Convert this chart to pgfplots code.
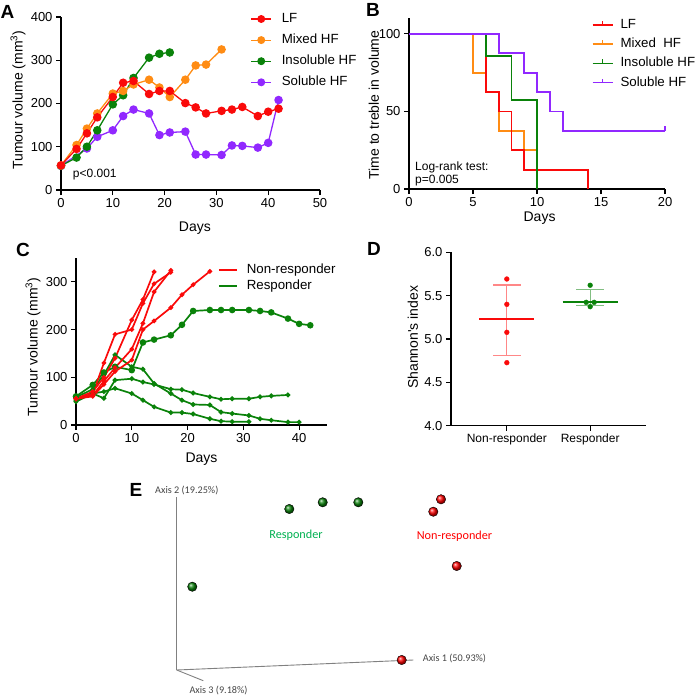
\documentclass[border=0pt]{standalone}
\usepackage{fontspec}
\setmainfont{Liberation Sans}
\newfontfamily\calibri{Carlito}
\usepackage{pgfplots}
\pgfplotsset{compat=1.18}
\definecolor{cRed}{RGB}{250,10,10}
\definecolor{cOrange}{RGB}{255,140,20}
\definecolor{cGreen}{RGB}{10,130,10}
\definecolor{cPurple}{RGB}{145,40,255}
\definecolor{eGreen}{RGB}{0,176,80}
\definecolor{eGray}{RGB}{70,70,70}
\definecolor{lRed}{RGB}{255,135,135}
\definecolor{lGreen}{RGB}{130,190,130}

\pgfplotsset{
  gp/.style={
    scale only axis, anchor=south west,
    axis lines=left,
    axis line style={-, line width=1.2pt, black},
    tick align=outside,
    major tick length=5pt,
    tick style={line width=1.2pt, black},
    tick label style={font=\fontsize{13}{15}\selectfont},
    /pgf/number format/assume math mode=true,
    label style={font=\fontsize{14}{16}\selectfont},
    clip=false,
    legend cell align=left,
  },
  lg/.style={legend style={draw=none, fill=none, inner sep=0pt, outer sep=0pt, anchor=north west,
    font=\fontsize{13.3}{16}\selectfont,
    nodes={inner sep=1pt, text height=10pt, text depth=3pt}}},
}

\begin{document}
\begin{tikzpicture}
\useasboundingbox (0pt,0pt) rectangle (698pt,-695pt);

% ---------------- Panel A ----------------
\begin{axis}[gp, lg, at={(61pt,-190pt)}, width=259pt, height=173pt,
  xmin=0, xmax=50, ymin=0, ymax=400,
  xtick={0,10,...,50}, ytick={0,100,...,400},
  xlabel={Days}, ylabel={Tumour volume (mm\textsuperscript{3})},
  xlabel style={at={(axis description cs:0.517,-0.22)}, anchor=center},
  ylabel style={at={(axis description cs:-0.166,0.52)}, anchor=center},
  legend style={at={(axis description cs:0.7324,1.0318)}, row sep=6.1pt,
    /tikz/every odd column/.append style={column sep=9pt}},
  legend image code/.code={\draw[mark repeat=2,mark phase=2,#1] plot coordinates {(0pt,0pt) (10pt,0pt) (20pt,0pt)};},
]
\addlegendimage{cRed, line width=1.1pt, mark=*, mark size=3.4pt}
\addlegendimage{cOrange, line width=1.1pt, mark=*, mark size=3.4pt}
\addlegendimage{cGreen, line width=1.1pt, mark=*, mark size=3.4pt}
\addlegendimage{cPurple, line width=1.1pt, mark=*, mark size=3.4pt}
\legend{LF, Mixed HF, Insoluble HF, Soluble HF}
\addplot[forget plot, cPurple, line width=1.3pt, mark=*, mark size=3.6pt] coordinates {
(0,56)(5,96)(7,123)(10,138)(12,171)(14,186)(17,177)(19,127)(21,133)(24,135)(26,82)(28,82)(31,81)(33,103)(35,102)(38,98)(40,109)(42,208)};
\addplot[forget plot, cGreen, line width=1.3pt, mark=*, mark size=3.6pt] coordinates {
(0,56)(3,75)(5,100)(7,138)(10,198)(12,219)(14,259)(17,306)(19,315)(21,318)};
\addplot[forget plot, cOrange, line width=1.3pt, mark=*, mark size=3.6pt] coordinates {
(0,57)(3,104)(5,142)(7,177)(10,223)(12,229)(14,244)(17,255)(19,237)(21,215)(24,255)(26,288)(28,290)(31,325)};
\addplot[forget plot, cRed, line width=1.3pt, mark=*, mark size=3.6pt] coordinates {
(0,57)(3,95)(5,131)(7,168)(10,215)(12,248)(14,252)(17,222)(19,229)(21,229)(24,201)(26,191)(28,177)(31,183)(33,186)(35,192)(38,171)(40,181)(42,188)};
\end{axis}

% ---------------- Panel B ----------------
\begin{axis}[gp, lg, at={(409pt,-189pt)}, width=256pt, height=170.7pt,
  xmin=0, xmax=20, ymin=0, ymax=110,
  xtick={0,5,...,20}, ytick={0,50,100},
  xlabel={Days}, ylabel={Time to treble in volume},
  xlabel style={at={(axis description cs:0.51,-0.17)}, anchor=center},
  ylabel style={at={(axis description cs:-0.137,0.492)}, anchor=center},
  legend style={at={(axis description cs:0.7137,1.0033)}, row sep=4.1pt,
    /tikz/every odd column/.append style={column sep=6pt}},
  legend image code/.code={\draw[#1] (0pt,0pt)--(20pt,0pt); \draw[#1,line width=1.2pt] (10pt,0pt)--(10pt,4pt);},
]
\addlegendimage{cRed, line width=1.8pt}
\addlegendimage{cOrange, line width=1.8pt}
\addlegendimage{cGreen, line width=1.8pt}
\addlegendimage{cPurple, line width=1.8pt}
\legend{LF, Mixed\ \ HF, Insoluble HF, Soluble HF}
\addplot[forget plot, const plot, cOrange, line width=1.8pt] coordinates {(0,100)(5,75)(6,62.5)(7,37.5)(9,25)(10,0)};
\addplot[forget plot, const plot, cRed, line width=1.8pt] coordinates {(0,100)(6,62.5)(7,50)(8,25)(9,12.5)(14,0)};
\addplot[forget plot, const plot, cGreen, line width=1.8pt] coordinates {(0,100)(6,85.7)(8,57.1)(10,0)};
\addplot[forget plot, const plot, cPurple, line width=1.8pt] coordinates {(0,100)(7,87.5)(9,75)(10,62.5)(11,50)(12,37.5)(20,37.5)};
\addplot[forget plot, cPurple, line width=1.2pt] coordinates {(20,37.5)(20,40.5)};
\end{axis}

% ---------------- Panel C ----------------
\begin{axis}[gp, lg, at={(76pt,-425pt)}, width=251pt, height=167pt,
  xmin=0, xmax=45, ymin=0, ymax=350,
  xtick={0,10,...,40}, ytick={0,100,...,300},
  xlabel={Days}, ylabel={Tumour volume (mm\textsuperscript{3})},
  xlabel style={at={(axis description cs:0.5,-0.204)}, anchor=center},
  ylabel style={at={(axis description cs:-0.171,0.467)}, anchor=center},
  legend style={at={(axis description cs:0.5657,0.972)}, row sep=1pt,
    /tikz/every odd column/.append style={column sep=8pt}},
  legend image code/.code={\draw[#1] (0pt,0pt)--(18pt,0pt);},
]
\addlegendimage{cRed, line width=1.8pt}
\addlegendimage{cGreen, line width=1.8pt}
\legend{Non-responder, Responder}
% responders
\addplot[forget plot, cGreen, line width=1.7pt, mark=*, mark size=2.4pt] coordinates {
(0,60)(3,84)(5,110)(7,122)(10,115)(12,173)(14,179)(17,188)(19,210)(21,239)(24,241)(26,241)(28,241)(31,241)(33,239)(35,236)(38,223)(40,212)(42,209)};
\addplot[forget plot, cGreen, line width=1.7pt, mark=*, mark size=1.5pt] coordinates {
(0,58)(3,75)(5,105)(7,147)(10,122)(12,117)(14,87)(17,66)(19,52)(21,43)(24,42)(26,27)(28,24)(31,20)(33,13)(35,10)(38,6)(40,6)};
\addplot[forget plot, cGreen, line width=1.7pt, mark=*, mark size=1.5pt] coordinates {
(0,49)(3,66)(5,56)(7,94)(10,97)(12,90)(14,85)(17,75)(19,74)(21,67)(24,59)(26,54)(28,55)(31,55)(33,59)(35,61)(38,63)};
\addplot[forget plot, cGreen, line width=1.7pt, mark=*, mark size=1.5pt] coordinates {
(0,52)(3,66)(5,70)(7,77)(10,66)(12,52)(14,38)(17,26)(19,26)(21,23)(24,13)(26,8)(28,7)(31,7)};
% non-responders
\addplot[forget plot, cRed, line width=1.7pt, mark=*, mark size=1.4pt] coordinates {
(0,55)(3,65)(5,130)(7,190)(10,200)(12,255)(14,296)(17,320)};
\addplot[forget plot, cRed, line width=1.7pt, mark=*, mark size=1.4pt] coordinates {
(0,55)(3,70)(5,100)(7,140)(10,220)(12,263)(14,321)};
\addplot[forget plot, cRed, line width=1.7pt, mark=*, mark size=1.4pt] coordinates {
(0,55)(3,62)(5,92)(7,120)(10,159)(12,213)(14,279)(17,324)};
\addplot[forget plot, cRed, line width=1.7pt, mark=*, mark size=1.4pt] coordinates {
(0,55)(3,60)(5,85)(7,112)(10,136)(12,200)(14,218)(17,246)(19,273)(21,294)(24,322)};
\end{axis}

% ---------------- Panel D ----------------
\begin{axis}[gp, at={(451pt,-425.7pt)}, width=195pt, height=173.4pt,
  xmin=0.33, xmax=2.67, ymin=4, ymax=6,
  xtick={1,2}, xticklabels={Non-responder,Responder},
  x tick label style={font=\fontsize{12}{14}\selectfont},
  ytick={4,4.5,5,5.5,6},
  yticklabel style={/pgf/number format/.cd, fixed, fixed zerofill, precision=1},
  ylabel={Shannon\textquotesingle s index},
  ylabel style={at={(axis description cs:-0.195,0.51)}, anchor=center},
]
% SD bars
\addplot[lRed, line width=1.3pt] coordinates {(1,4.807)(1,5.623)};
\addplot[lRed, line width=1.3pt] coordinates {(0.836,5.623)(1.164,5.623)};
\addplot[lRed, line width=1.3pt] coordinates {(0.836,4.807)(1.164,4.807)};
\addplot[lGreen, line width=1.3pt] coordinates {(2,5.384)(2,5.569)};
\addplot[lGreen, line width=1.3pt] coordinates {(1.832,5.569)(2.168,5.569)};
\addplot[lGreen, line width=1.3pt] coordinates {(1.832,5.384)(2.168,5.384)};
% means
\addplot[cRed, line width=1.7pt] coordinates {(0.67,5.234)(1.33,5.234)};
\addplot[cGreen, line width=1.7pt] coordinates {(1.67,5.423)(2.33,5.423)};
% points
\addplot[only marks, cRed, mark=*, mark size=2.4pt] coordinates {(1,5.692)(1,5.40)(1,5.077)(1,4.727)};
\addplot[only marks, cGreen, mark=*, mark size=2.4pt] coordinates {(2,5.62)(1.952,5.423)(2.048,5.423)(2,5.373)};
\end{axis}

% ---------------- Panel E ----------------
\begin{axis}[at={(0pt,-695pt)}, anchor=south west, scale only axis, width=698pt, height=225pt,
  xmin=0, xmax=698, ymin=470, ymax=695, y dir=reverse, hide axis, clip=false]
\draw[gray, line width=0.9pt] (axis cs:176.7,670) -- (axis cs:176.7,496.7);
\draw[gray, line width=0.9pt] (axis cs:176.7,670) -- (axis cs:413.3,660);
\draw[gray, line width=0.9pt] (axis cs:176.7,670) -- (axis cs:203.3,680.7);
\addplot[only marks, mark=ball, mark size=4.7pt, mark options={ball color=cGreen}] coordinates {
(289.3,509)(322.7,502.3)(358.3,502.3)(192.3,586.7)};
\addplot[only marks, mark=ball, mark size=4.7pt, mark options={ball color=red}] coordinates {
(441,499.3)(433.3,511.7)(456.7,566)(401.7,660)};
\end{axis}

% E labels
\node[anchor=west, inner sep=0pt, text=eGray, font=\calibri\fontsize{10.2}{12}\selectfont] at (155pt,-490pt) {Axis 2 (19.25\%)};
\node[anchor=west, inner sep=0pt, text=eGray, font=\calibri\fontsize{10.2}{12}\selectfont] at (422.7pt,-658.3pt) {Axis 1 (50.93\%)};
\node[anchor=west, inner sep=0pt, text=eGray, font=\calibri\fontsize{10.2}{12}\selectfont] at (189.3pt,-690pt) {Axis 3 (9.18\%)};
\node[text=eGreen, font=\calibri\fontsize{12.2}{14}\selectfont] at (296pt,-535pt) {Responder};
\node[text=red, font=\calibri\fontsize{12.2}{14}\selectfont] at (454.5pt,-536pt) {Non-responder};

% annotations
\node[anchor=west, inner sep=0pt, font=\fontsize{12}{14}\selectfont] at (72.7pt,-175pt) {p<0.001};
\node[anchor=west, inner sep=0pt, font=\fontsize{12}{14}\selectfont] at (415pt,-167pt) {Log-rank test:};
\node[anchor=west, inner sep=0pt, font=\fontsize{12}{14}\selectfont] at (415pt,-181pt) {p=0.005};

% panel letters
\node[font=\bfseries\fontsize{19}{20}\selectfont] at (7.5pt,-12pt) {A};
\node[font=\bfseries\fontsize{19}{20}\selectfont] at (373pt,-10pt) {B};
\node[font=\bfseries\fontsize{19}{20}\selectfont] at (23pt,-250pt) {C};
\node[font=\bfseries\fontsize{19}{20}\selectfont] at (374pt,-249pt) {D};
\node[font=\bfseries\fontsize{19}{20}\selectfont] at (136pt,-490pt) {E};
\end{tikzpicture}
\end{document}
